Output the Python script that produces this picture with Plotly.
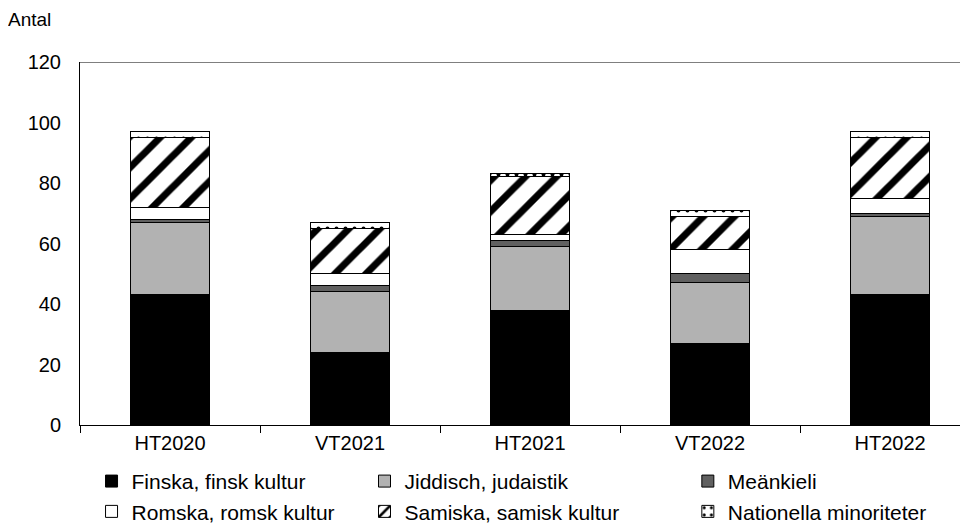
import plotly.graph_objects as go

categories = ["HT2020", "VT2021", "HT2021", "VT2022", "HT2022"]
finska = [43, 24, 38, 27, 43]
jiddisch = [24, 20, 21, 20, 26]
meankieli = [1, 2, 2, 3, 1]
romska = [4, 4, 2, 8, 5]
samiska = [23, 15, 19, 11, 20]
nationella = [2, 2, 1, 2, 2]
y_ticks = [0, 20, 40, 60, 80, 100, 120]

FONT = "Liberation Sans, Arial, sans-serif"

series = [
    ("Finska, finsk kultur", finska, dict(color="#000000"), "legend"),
    ("Jiddisch, judaistik", jiddisch, dict(color="#b2b2b2"), "legend2"),
    ("Meänkieli", meankieli, dict(color="#606060"), "legend3"),
    ("Romska, romsk kultur", romska, dict(color="#ffffff"), "legend"),
    ("Samiska, samisk kultur", samiska,
     dict(color="#ffffff", pattern=dict(shape="/", fgcolor="#000000", bgcolor="#ffffff",
                                         fgopacity=1, size=22, solidity=0.32,
                                         fillmode="replace")), "legend2"),
    ("Nationella minoriteter", nationella,
     dict(color="#ffffff", pattern=dict(shape=".", fgcolor="#000000", bgcolor="#ffffff",
                                         fgopacity=1, size=9, solidity=0.15,
                                         fillmode="replace")), "legend3"),
]

fig = go.Figure()
for name, vals, mk, lg in series:
    marker = dict(mk)
    marker["line"] = dict(color="#000000", width=1)
    fig.add_trace(go.Bar(x=categories, y=vals, name=name, marker=marker, legend=lg))

leg_common = dict(orientation="v", xanchor="left", yanchor="top", y=-0.099,
                  font=dict(family=FONT, size=21, color="#000000"),
                  bgcolor="rgba(0,0,0,0)", traceorder="normal", itemwidth=30)

fig.update_layout(
    barmode="stack",
    bargap=0.56,
    width=960, height=517,
    margin=dict(l=72, r=0, t=54, b=100, autoexpand=False),
    plot_bgcolor="#ffffff", paper_bgcolor="#ffffff",
    font=dict(family=FONT, size=20, color="#000000"),
    xaxis=dict(range=[-0.5, 4.433], showline=True, linecolor="#000000", linewidth=1,
               ticks="outside", tickson="boundaries", ticklen=7, tickcolor="#000000",
               showgrid=False, tickfont=dict(size=20)),
    yaxis=dict(range=[0, 120], tickvals=y_ticks, showline=True, linecolor="#000000",
               linewidth=1, ticks="", showgrid=False, zeroline=False,
               ticklabelstandoff=14, tickfont=dict(size=20)),
    legend=dict(x=0.013, **leg_common),
    legend2=dict(x=0.3204, **leg_common),
    legend3=dict(x=0.6845, **leg_common),
    shapes=[dict(type="line", xref="paper", yref="y", x0=0, x1=1, y0=120, y1=120,
                 line=dict(color="#000000", width=1))],
    annotations=[dict(text="Antal", xref="paper", yref="paper", x=-0.083, y=1.116,
                      xanchor="left", yanchor="middle", showarrow=False,
                      font=dict(family=FONT, size=19, color="#000000"))],
)

fig.write_html("out.html")
